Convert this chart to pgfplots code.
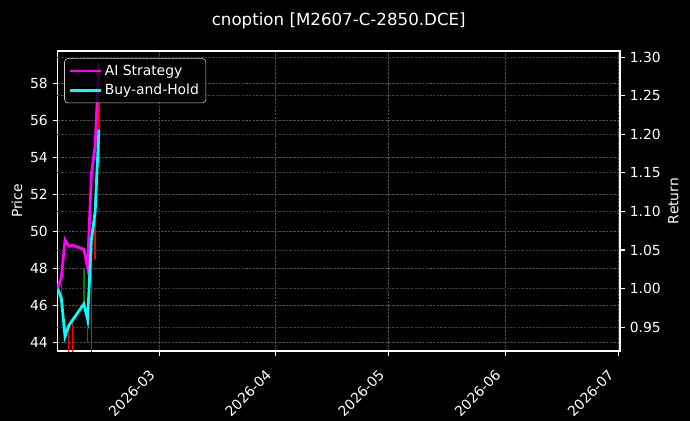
\documentclass[border=0pt]{standalone}
\usepackage{fontspec}
\setmainfont{DejaVu Sans}
\usepackage{pgfplots}
\pgfplotsset{compat=1.18}

\definecolor{gridA}{gray}{0.30}
\definecolor{gridB}{gray}{0.22}
\definecolor{aimag}{HTML}{FF00FF}
\definecolor{bhcyan}{HTML}{00FFFF}
\definecolor{candleup}{HTML}{FF0000}
\definecolor{candledown}{HTML}{008000}
\definecolor{legedge}{gray}{0.8}

% x = days from 2026-03-01
\pgfplotsset{
  darkax/.style={
    scale only axis, width=405bp, height=216bp,
    at={(0,0)}, anchor=south west,
    xmin=-27, xmax=122.5,
    axis line style={white, line width=0.8bp},
    tick style={white, line width=0.8bp},
    tick align=outside, major tick length=3.5bp,
    ticklabel style={white, font=\fontsize{10bp}{12bp}\selectfont},
    /pgf/number format/assume math mode=true,
  },
}

\begin{document}
\begin{tikzpicture}
\fill[black] (-41.4bp,-50.4bp) rectangle (455.4bp,252.72bp);

% price axis with candles
\begin{axis}[darkax,
  ymin=43.55, ymax=59.75, ytick={44,46,48,50,52,54,56,58},
  xtick={0,31,61,92,122},
  xticklabels={2026-03,2026-04,2026-05,2026-06,2026-07},
  xtick pos=left, ytick pos=left,
  xticklabel style={rotate=45, anchor=north east, inner sep=1bp, xshift=-11bp},
  xmajorgrids, ymajorgrids,
  major grid style={gridA, line width=0.5bp, dash pattern=on 1.85bp off 0.8bp},
  ylabel={Price},
  ylabel style={at={(axis description cs:-0.0721,0.5)}, anchor=center, text=white, font=\fontsize{10bp}{12bp}\selectfont},
]
\addplot[candleup, line width=1bp, unbounded coords=jump] coordinates {
  (-27,46.6) (-27,47.2) (-27,nan)
  (-26,46.5) (-26,47.2) (-26,nan)
  (-24,43.0) (-24,44.8) (-24,nan)
  (-23,43.0) (-23,45.2) (-23,nan)
  (-19,44.0) (-19,45.5) (-19,nan)
  (-18,43.0) (-18,50.1) (-18,nan)
  (-17,48.5) (-17,51.8) (-17,nan)
  (-16,53.5) (-16,57.0)
};
\addplot[candledown, line width=1.5bp] coordinates {(-20,46.2) (-20,48.0)};
\end{axis}

% return axis with strategy lines
\begin{axis}[darkax,
  axis x line=none, axis y line*=right,
  ymin=0.919, ymax=1.308,
  ytick={0.95,1,1.05,1.1,1.15,1.2,1.25,1.3},
  y tick label style={/pgf/number format/.cd, fixed, fixed zerofill, precision=2},
  ymajorgrids,
  major grid style={gridB, line width=0.5bp, dash pattern=on 1.85bp off 0.8bp},
  ylabel={Return},
  ylabel style={at={(axis description cs:1.0948,0.5)}, anchor=center, text=white, font=\fontsize{10bp}{12bp}\selectfont},
  legend style={at={(axis description cs:0.012,0.976)}, anchor=north west,
    fill=black, fill opacity=0.8, text opacity=1, draw=legedge,
    rounded corners=2.5bp, text=white, font=\fontsize{10bp}{12bp}\selectfont,
    inner xsep=3bp, inner ysep=2.5bp, row sep=1bp},
  legend cell align=left,
  legend image code/.code={\draw[#1] (0bp,0bp) -- (22bp,0bp);},
]
\addplot[aimag, line width=2bp] coordinates {
  (-27,1.000) (-26,1.014) (-25,1.063) (-24,1.055) (-23,1.056)
  (-20,1.051) (-19,1.027) (-18,1.148) (-17,1.185) (-16,1.292)
};
\addlegendentry{AI Strategy}
\addplot[bhcyan, line width=2bp] coordinates {
  (-27,1.000) (-26,0.988) (-25,0.938) (-24,0.952) (-23,0.959)
  (-20,0.980) (-19,0.960) (-18,1.063) (-17,1.099) (-16,1.206)
};
\addlegendentry{Buy-and-Hold}
\end{axis}

\node[white, font=\fontsize{12bp}{14bp}\selectfont, anchor=base] at (202.5bp,234.7bp) {cnoption [M2607-C-2850.DCE]};

\pgfresetboundingbox
\path (-41.4bp,-50.4bp) rectangle (455.4bp,252.72bp);
\end{tikzpicture}
\end{document}
